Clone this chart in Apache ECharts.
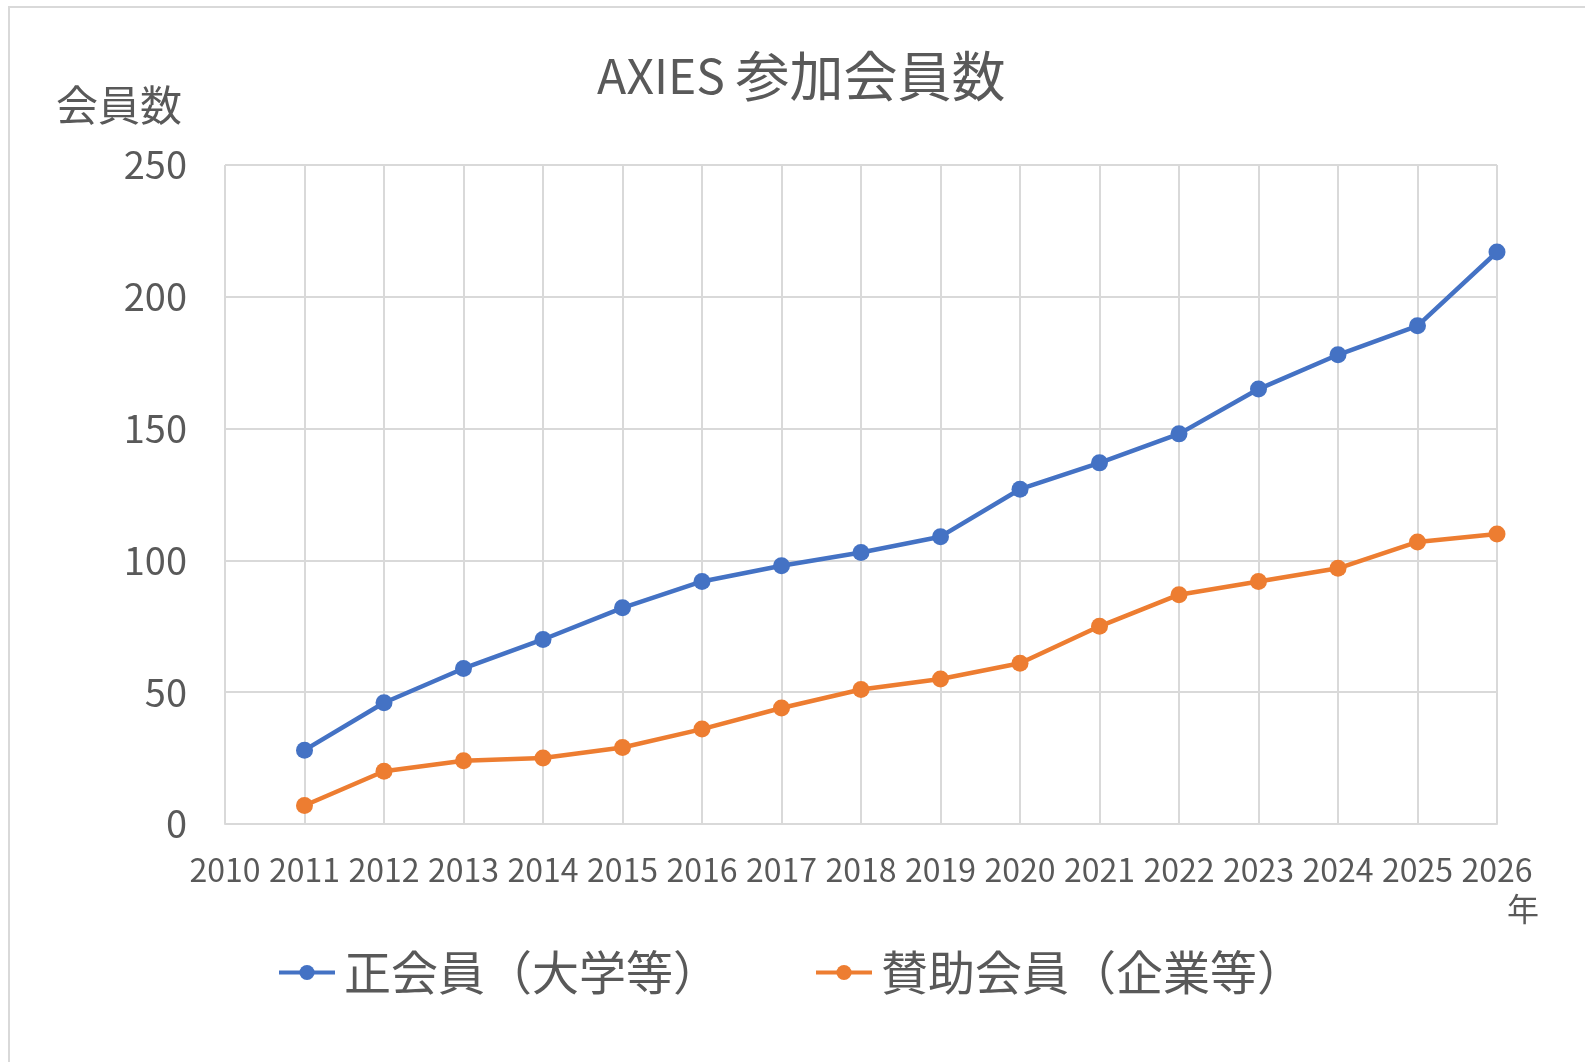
<!DOCTYPE html>
<html lang="ja">
<head>
    <meta charset="UTF-8">
    <title>AXIES 参加会員数</title>
    <script src="https://cdn.jsdelivr.net/npm/echarts@6/dist/echarts.min.js"></script>
    <style>
        html, body { margin: 0; padding: 0; background: #fff; }
        #chart { width: 1585px; height: 1062px; }
    </style>
</head>
<body>
<div id="chart"></div>
<script>
    // 年
    var years = [2011, 2012, 2013, 2014, 2015, 2016, 2017, 2018, 2019, 2020, 2021, 2022, 2023, 2024, 2025, 2026];
    // 正会員（大学等）
    var regular = [28, 46, 59, 70, 82, 92, 98, 103, 109, 127, 137, 148, 165, 178, 189, 217];
    // 賛助会員（企業等）
    var supporting = [7, 20, 24, 25, 29, 36, 44, 51, 55, 61, 75, 87, 92, 97, 107, 110];

    var font = '"Noto Sans CJK JP", "Open Sans", sans-serif';
    var textColor = '#595959';
    var gridColor = '#d9d9d9';

    function pairs(vals) {
        var out = [];
        for (var i = 0; i < years.length; i++) {
            out.push([years[i], vals[i]]);
        }
        return out;
    }

    var chart = echarts.init(document.getElementById('chart'));

    chart.setOption({
        animation: false,
        textStyle: { fontFamily: font },
        title: {
            text: '{a|AXIES }{b|参加会員数}',
            left: 592,
            top: 44,
            textStyle: {
                fontFamily: font,
                fontWeight: 'normal',
                color: textColor,
                rich: {
                    a: { fontFamily: font, fontSize: 48, fontWeight: 'normal', color: textColor },
                    b: { fontFamily: font, fontSize: 54, fontWeight: 'normal', color: textColor }
                }
            }
        },
        legend: {
            left: 272,
            top: 944,
            itemWidth: 56,
            itemHeight: 19,
            itemGap: 94,
            lineStyle: { width: 4 },
            textStyle: { fontFamily: font, fontSize: 47, color: textColor, padding: [0, 0, 0, 4] },
            data: ['正会員（大学等）', '賛助会員（企業等）']
        },
        grid: {
            left: 225,
            right: 88,
            top: 165,
            bottom: 238,
            containLabel: false
        },
        xAxis: {
            type: 'value',
            min: 2010,
            max: 2026,
            interval: 1,
            axisLine: { show: true, lineStyle: { color: gridColor, width: 2 } },
            axisTick: { show: false },
            axisLabel: {
                margin: 30,
                fontSize: 32,
                color: textColor,
                fontFamily: font,
                formatter: function (v) { return String(v); }
            },
            splitLine: { show: true, lineStyle: { color: gridColor, width: 2 } }
        },
        yAxis: {
            type: 'value',
            min: 0,
            max: 250,
            interval: 50,
            axisLine: { show: false },
            axisTick: { show: false },
            axisLabel: { margin: 38, fontSize: 38, color: textColor, fontFamily: font },
            splitLine: { show: true, lineStyle: { color: gridColor, width: 2 } }
        },
        graphic: [
            {
                type: 'polyline',
                shape: { points: [[9, 1062], [9, 7], [1585, 7]] },
                style: { stroke: gridColor, lineWidth: 2, fill: null },
                silent: true
            },
            {
                type: 'text',
                left: 56,
                top: 84,
                style: { text: '会員数', font: '42px ' + font, fill: textColor }
            },
            {
                type: 'text',
                left: 1507,
                top: 893,
                style: { text: '年', font: '32px ' + font, fill: textColor }
            }
        ],
        series: [
            {
                name: '正会員（大学等）',
                type: 'line',
                data: pairs(regular),
                symbol: 'circle',
                symbolSize: 17,
                lineStyle: { color: '#4472C4', width: 4.5 },
                itemStyle: { color: '#4472C4' }
            },
            {
                name: '賛助会員（企業等）',
                type: 'line',
                data: pairs(supporting),
                symbol: 'circle',
                symbolSize: 17,
                lineStyle: { color: '#ED7D31', width: 4.5 },
                itemStyle: { color: '#ED7D31' }
            }
        ]
    });
</script>
</body>
</html>
